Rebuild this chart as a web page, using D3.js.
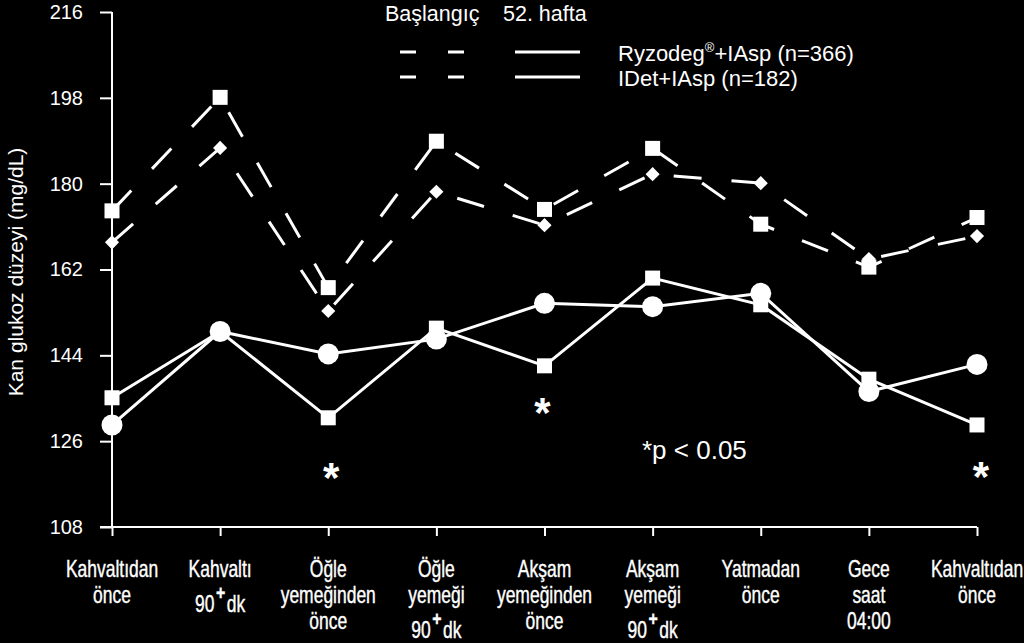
<!DOCTYPE html>
<html>
<head>
<meta charset="utf-8">
<script src="https://cdn.jsdelivr.net/npm/d3@7"></script>
<style>
html,body{margin:0;padding:0;background:#000;}
svg{display:block;}
text{font-family:"Liberation Sans",Arial,sans-serif;fill:#fff;}
</style>
</head>
<body>
<script>
// ---- data ----
const categories = [
  ["Kahvaltıdan","önce"],
  ["Kahvaltı","90+dk"],
  ["Öğle","yemeğinden","önce"],
  ["Öğle","yemeği","90+dk"],
  ["Akşam","yemeğinden","önce"],
  ["Akşam","yemeği","90+dk"],
  ["Yatmadan","önce"],
  ["Gece","saat","04:00"],
  ["Kahvaltıdan","önce"]
];
const yTicks = [108,126,144,162,180,198,216];
const ryzodegBaseline = [174.3,198.1,158.2,188.9,174.6,187.4,171.5,162.5,172.9];
const idetBaseline    = [167.7,187.5,153.3,178.3,171.3,182.0,180.1,164.2,169.0];
const ryzodegWeek52   = [135.1,149.0,130.9,149.7,141.8,160.2,154.6,139.0,129.4];
const idetWeek52      = [129.4,149.0,144.3,147.4,154.9,154.2,157.0,136.4,142.1];
const significant = [2,4,8];
const legendHeaders = ["Başlangıç","52. hafta"];
const legendNames = ["Ryzodeg","IDet+IAsp (n=182)"];

const W=1024,H=643;
const svg=d3.select("body").append("svg").attr("width",W).attr("height",H);
svg.append("rect").attr("width",W).attr("height",H).attr("fill","#000");

const x=d3.scalePoint().domain(d3.range(categories.length)).range([112,977]);
const y=d3.scaleLinear().domain([108,216]).range([527,12]);

// axes
const yAxis=svg.append("g").attr("transform","translate(112,0)")
  .call(d3.axisLeft(y).tickValues(yTicks).tickSize(12).tickPadding(17).tickFormat(d3.format("d")));
yAxis.select(".domain").attr("stroke","#fff").attr("stroke-width",2).attr("d","M0,12V527");
yAxis.selectAll(".tick line").attr("stroke","#fff").attr("stroke-width",2);
yAxis.selectAll(".tick text").attr("font-size",20).attr("fill","#fff")
  .attr("font-family","'Liberation Sans',Arial,sans-serif");

const xAxis=svg.append("g").attr("transform","translate(0,527)")
  .call(d3.axisBottom(x).tickSize(9).tickFormat(""));
xAxis.select(".domain").attr("stroke","#fff").attr("stroke-width",2).attr("d","M100,0H977");
xAxis.selectAll(".tick line").attr("stroke","#fff").attr("stroke-width",2);

// x labels (condensed)
categories.forEach((lines,i)=>{
  let base=577;
  lines.forEach((ln,j)=>{
    const hasPlus=ln.includes("+");
    const yy = j===0 ? base : base + (hasPlus?35:26);
    base=yy;
    const t=svg.append("text").attr("transform",`translate(${x(i)},${yy}) scale(0.76,1)`)
      .attr("text-anchor","middle").attr("font-size",23)
      .attr("stroke","#fff").attr("stroke-width",0.4);
    if(hasPlus){
      const [a,b]=ln.split("+");
      t.append("tspan").text(a);
      t.append("tspan").attr("dy",-12).attr("dx",2).attr("font-weight","bold").attr("font-size",21).text("+");
      t.append("tspan").attr("dy",12).attr("dx",2).text(b);
    } else t.text(ln);
  });
});

// y title
svg.append("text").attr("transform","translate(23,272) rotate(-90)")
  .attr("text-anchor","middle").attr("font-size",21).text("Kan glukoz düzeyi (mg/dL)");

// lines
const line=d3.line().x((d,i)=>x(i)).y(d=>y(d));
function drawLine(data,dashed){
  svg.append("path").datum(data).attr("d",line).attr("fill","none")
    .attr("stroke","#fff").attr("stroke-width",3)
    .attr("stroke-dasharray",dashed?"28,30":null);
}
drawLine(ryzodegBaseline,true);
drawLine(idetBaseline,true);
drawLine(ryzodegWeek52,false);
drawLine(idetWeek52,false);

function squares(data,s){
  svg.append("g").selectAll("rect").data(data).join("rect")
    .attr("x",(d,i)=>x(i)-s/2).attr("y",d=>y(d)-s/2).attr("width",s).attr("height",s).attr("fill","#fff");
}
function diamonds(data,s){
  const sym=d3.symbol().type(d3.symbolSquare).size(s*s);
  svg.append("g").selectAll("path").data(data).join("path")
    .attr("d",sym()).attr("transform",(d,i)=>`translate(${x(i)},${y(d)}) rotate(45)`).attr("fill","#fff");
}
function circles(data,r){
  svg.append("g").selectAll("circle").data(data).join("circle")
    .attr("cx",(d,i)=>x(i)).attr("cy",d=>y(d)).attr("r",r).attr("fill","#fff");
}
squares(ryzodegBaseline,15);
diamonds(idetBaseline,10);
squares(ryzodegWeek52,15);
circles(idetWeek52,10.5);

// significance asterisks
const astY={2:492,4:427,8:491};
const astDx={2:3,4:-2,8:4};
significant.forEach(i=>{
  svg.append("text").attr("x",x(i)+astDx[i]).attr("y",astY[i]).attr("text-anchor","middle")
    .attr("font-size",42).attr("font-weight","bold").text("*");
});
svg.append("text").attr("x",642).attr("y",459).attr("font-size",26).text("*p < 0.05");

// legend
svg.append("text").attr("x",385).attr("y",21).attr("font-size",21.5).text(legendHeaders[0]);
svg.append("text").attr("x",503).attr("y",21).attr("font-size",21.5).text(legendHeaders[1]);
[52,77].forEach((ly,k)=>{
  svg.append("line").attr("x1",400).attr("x2",465).attr("y1",ly).attr("y2",ly)
    .attr("stroke","#fff").attr("stroke-width",3).attr("stroke-dasharray","16,32");
  svg.append("line").attr("x1",515).attr("x2",580).attr("y1",ly).attr("y2",ly)
    .attr("stroke","#fff").attr("stroke-width",3);
});
const t1=svg.append("text").attr("x",618).attr("y",61).attr("font-size",22);
t1.append("tspan").text(legendNames[0]);
t1.append("tspan").attr("font-size",13).attr("dy",-9).text("®");
t1.append("tspan").attr("dy",9).text("+IAsp (n=366)");
svg.append("text").attr("x",618).attr("y",86).attr("font-size",22).text(legendNames[1]);
</script>
</body>
</html>
